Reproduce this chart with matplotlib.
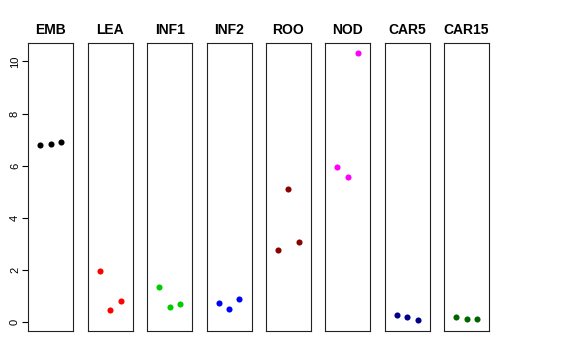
import matplotlib
matplotlib.use("Agg")
import matplotlib.pyplot as plt

plt.rcParams['font.family'] = ['Liberation Sans', 'DejaVu Sans']

# tissue groups and their three replicate values
tissues = ['EMB', 'LEA', 'INF1', 'INF2', 'ROO', 'NOD', 'CAR5', 'CAR15']
values = {
    'EMB':   [6.80, 6.82, 6.91],
    'LEA':   [1.96, 0.46, 0.83],
    'INF1':  [1.35, 0.58, 0.70],
    'INF2':  [0.76, 0.53, 0.88],
    'ROO':   [2.76, 5.10, 3.10],
    'NOD':   [5.95, 5.56, 10.31],
    'CAR5':  [0.29, 0.21, 0.08],
    'CAR15': [0.21, 0.13, 0.12],
}
colors = ['black', 'red', '#00CD00', 'blue', '#8B0000', 'magenta', '#00008B', '#006400']
replicate = [1, 2, 3]

fig = plt.figure(figsize=(5.76, 3.6), dpi=100)

W, H = 576, 360
left0, step, pw = 28.3, 59.4, 45
top, bottom = 42.7, 331

all_vals = [v for t in tissues for v in values[t]]
lo, hi = min(all_vals), max(all_vals)
pad = (hi - lo) * 0.04

for i, (t, c) in enumerate(zip(tissues, colors)):
    ax = fig.add_axes([(left0 + i * step) / W, 1 - bottom / H, pw / W, (bottom - top) / H])
    ax.plot(replicate, values[t], 'o', color=c, markersize=4.4, markeredgewidth=0)
    ax.set_xlim(-0.16, 4.16)
    ax.set_ylim(lo - pad, hi + pad)
    ax.set_xticks([])
    for s in ax.spines.values():
        s.set_linewidth(0.8)
        s.set_color('#222222')
    ax.set_title(t, fontsize=10, fontweight='bold', pad=6)
    if i == 0:
        ax.set_yticks([0, 2, 4, 6, 8, 10])
        ax.tick_params(axis='y', labelsize=8, length=4, width=0.8, pad=2)
        for lab in ax.get_yticklabels():
            lab.set_rotation(90)
            lab.set_va('center')
    else:
        ax.set_yticks([])

fig.savefig('out.png', dpi=100)
